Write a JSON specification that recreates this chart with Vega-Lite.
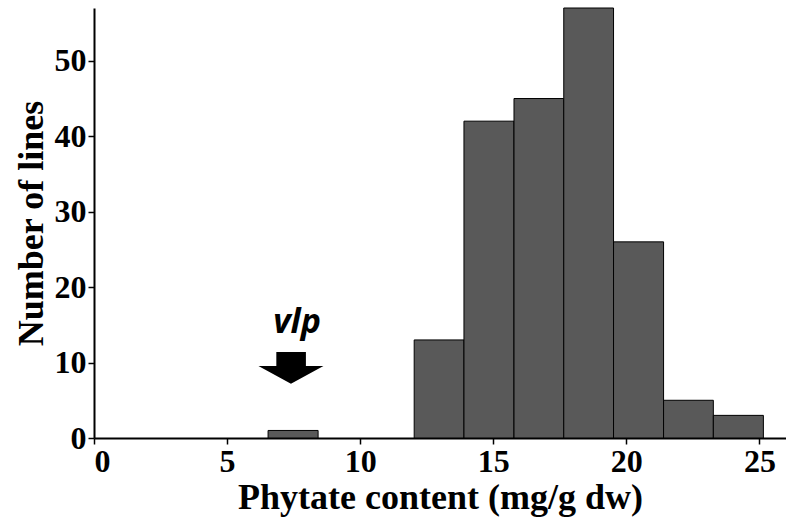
{
  "$schema": "https://vega.github.io/schema/vega-lite/v6.json",
  "width": 692,
  "height": 430,
  "autosize": {"type": "none"},
  "padding": {"left": 94, "top": 8, "right": 0, "bottom": 87},
  "background": "white",
  "config": {
    "view": {"stroke": null},
    "axis": {
      "labelFont": "Liberation Serif",
      "labelFontWeight": "bold",
      "labelColor": "black",
      "labelFontSize": 32,
      "titleFont": "Liberation Serif",
      "titleFontWeight": "bold",
      "titleColor": "black",
      "titleFontSize": 36,
      "domainColor": "black",
      "domainWidth": 2,
      "tickColor": "black",
      "tickWidth": 1.5,
      "tickSize": 6,
      "grid": false
    }
  },
  "layer": [
    {
      "data": {
        "values": [
          {"start": 6.54, "end": 8.42, "count": 1},
          {"start": 12.03, "end": 13.9, "count": 13},
          {"start": 13.9, "end": 15.78, "count": 42},
          {"start": 15.78, "end": 17.65, "count": 45},
          {"start": 17.65, "end": 19.52, "count": 57},
          {"start": 19.52, "end": 21.4, "count": 26},
          {"start": 21.4, "end": 23.27, "count": 5},
          {"start": 23.27, "end": 25.15, "count": 3}
        ]
      },
      "mark": {"type": "rect", "fill": "#595959", "stroke": "black", "strokeWidth": 1},
      "encoding": {
        "x": {
          "field": "start", "type": "quantitative",
          "scale": {"domain": [0, 26], "nice": false, "zero": false},
          "axis": {"values": [0, 5, 10, 15, 20, 25], "title": "Phytate content (mg/g dw)", "labelPadding": 2, "titlePadding": 3}
        },
        "x2": {"field": "end"},
        "y": {
          "field": "count", "type": "quantitative",
          "scale": {"domain": [0, 57], "nice": false},
          "axis": {"values": [0, 10, 20, 30, 40, 50], "title": "Number of lines", "labelPadding": 2, "titlePadding": 4}
        },
        "y2": {"datum": 0}
      }
    },
    {
      "data": {"values": [{"x": 7.4, "y": 9.3, "label": "vlp", "tx": 7.63, "ty": 13.9}]},
      "layer": [
        {
          "mark": {
            "type": "point",
            "shape": "M -0.45 -0.49 L 0.46 -0.49 L 0.46 -0.06 L 1 -0.06 L 0 0.49 L -1 -0.06 L -0.45 -0.06 Z",
            "filled": true,
            "fill": "black",
            "stroke": null,
            "opacity": 1,
            "size": 4225
          },
          "encoding": {
            "x": {"field": "x", "type": "quantitative"},
            "y": {"field": "y", "type": "quantitative"}
          }
        },
        {
          "mark": {
            "type": "text",
            "font": "Open Sans",
            "fontStyle": "italic",
            "fontWeight": "bold",
            "fontSize": 34,
            "baseline": "alphabetic",
            "align": "center",
            "color": "black"
          },
          "encoding": {
            "x": {"field": "tx", "type": "quantitative"},
            "y": {"field": "ty", "type": "quantitative"},
            "text": {"field": "label"}
          }
        }
      ]
    }
  ]
}
